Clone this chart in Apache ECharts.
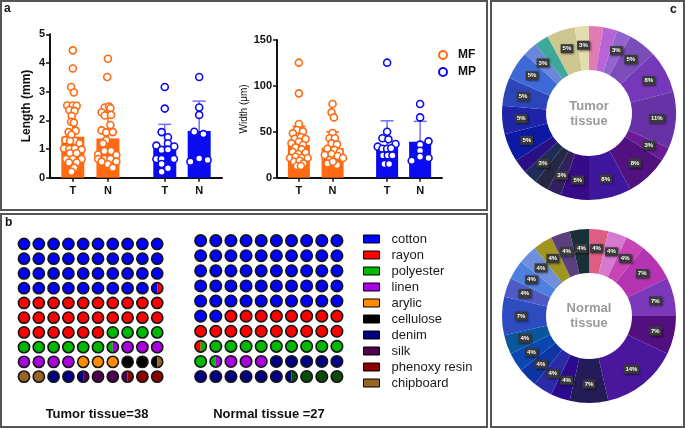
<!DOCTYPE html>
<html><head><meta charset="utf-8">
<script src="https://cdn.jsdelivr.net/npm/echarts@6/dist/echarts.min.js"></script>
<style>html,body{margin:0;padding:0;background:#fff}#c{width:685px;height:428px}</style>
</head><body><div id="c"></div>
<script>
// ================= DATA =================
// Panel a: groups on x axis
const groupLabels = ['T', 'N', 'T', 'N'];
const groupPos = [0, 1, 2.62, 3.6];
// bar means and upper SD limits
const lengthMeanMF = [1.43, 1.37];
const lengthUpperMF = [2.4, 2.25];
const lengthMeanMP = [1.10, 1.63];
const lengthUpperMP = [1.86, 2.67];
const widthMeanMF = [35.6, 32.3];
const widthUpperMF = [56, 50];
const widthMeanMP = [35.6, 39.2];
const widthUpperMP = [62, 61.4];
// individual points: [jitter offset, value]
const lenMF_T = [[0,4.44],[0,3.81],[-0.05,3.16],[0.03,2.97],[-0.16,2.52],[0,2.52],[0.11,2.51],[-0.1,2.36],[0.05,2.33],[-0.03,2.15],[-0.05,1.95],[0.03,1.92],[-0.12,1.59],[0.08,1.64],[-0.04,1.5],[-0.21,1.31],[0.06,1.28],[-0.08,1.28],[0.19,1.19],[-0.25,1.02],[-0.1,1.0],[0.06,1.02],[0.25,0.98],[-0.08,0.85],[0.11,0.85],[-0.19,0.65],[0,0.65],[0.25,0.65],[-0.11,0.53],[0.11,0.53],[0.04,0.35],[-0.04,0.21]];
const lenMF_N = [[0,4.15],[-0.02,3.51],[-0.09,2.45],[0.03,2.48],[0.07,2.42],[-0.18,2.28],[0,2.21],[-0.09,2.17],[0.09,2.19],[0.07,1.84],[-0.18,1.65],[-0.05,1.58],[0.14,1.59],[-0.05,1.31],[-0.14,1.19],[-0.28,0.81],[-0.1,0.93],[0.09,0.93],[0.24,0.79],[-0.28,0.65],[-0.1,0.65],[0.07,0.65],[0.24,0.56],[-0.18,0.56],[0,0.47],[0.14,0.35]];
const lenMP_T = [[0,3.16],[0,2.41],[-0.09,1.59],[0.09,1.41],[-0.24,1.12],[0.09,1.19],[0.27,1.09],[-0.09,0.97],[0.09,0.98],[-0.24,0.65],[-0.09,0.65],[0.26,0.65],[-0.09,0.48],[0.09,0.33],[-0.09,0.21]];
const lenMP_N = [[0,3.51],[0,2.45],[0,2.19],[-0.14,1.6],[0.12,1.52],[-0.25,0.56],[0,0.67],[0.24,0.62]];
const widMF_T = [[0,125.3],[0,91.9],[0,58.5],[-0.06,51.9],[0.12,50.5],[-0.18,48.3],[-0.12,42.5],[0.06,44],[0.2,42.1],[0,39.2],[-0.22,37.4],[0.12,35.6],[-0.1,33],[0.08,30.9],[-0.18,28],[-0.02,25.8],[0.2,27.2],[-0.26,21.4],[-0.1,22.9],[0.08,21.4],[0.26,21.4],[-0.14,17.4],[0.02,18.5],[0.14,15.6],[-0.06,12.7],[0.06,12.7]];
const widMF_N = [[0,80.3],[-0.03,71.2],[0.04,65.7],[0,48.7],[-0.09,42.9],[0.07,42.9],[-0.03,37.4],[0.13,36.3],[-0.15,31.6],[0.06,30.1],[0.21,28],[-0.23,24.7],[-0.03,25.8],[0.15,23.6],[-0.09,19.3],[0.31,21.4],[-0.15,15.6],[0.13,13.8],[0.01,17.4]];
const widMP_T = [[0,125.3],[0,50.1],[-0.14,42.9],[0.04,41.8],[-0.28,33.8],[0.25,36.7],[-0.14,31.6],[0,31.6],[0.12,32],[-0.12,24.3],[0.02,24.3],[0.16,24.3],[-0.08,14.9],[0.06,14.9]];
const widMP_N = [[0,80.3],[0,65.7],[0.25,39.6],[0,36],[0,29.4],[-0.25,18.5],[0.25,21.4],[0,22.9]];

// Panel b: waffle charts (counts in half-cells, fill order row by row)
const materials = ['cotton','rayon','polyester','linen','arylic','cellulose','denim','silk','phenoxy resin','chipboard','other'];
const materialColors = ['#0000ff','#ff0000','#00b800','#a800e0','#ff8c00','#000000','#000080','#4d004f','#8b0000','#9a6422','#0a4a0a'];
const tumorOrder = ['cotton','rayon','polyester','linen','arylic','cellulose','chipboard','denim','silk','phenoxy resin'];
const tumorHalves = [79, 53, 21, 15, 6, 5, 5, 5, 6, 5];
const normalOrder = ['cotton','rayon','polyester','linen','denim','other'];
const normalHalves = [104, 37, 22, 7, 23, 7];

// Panel c: donuts (clockwise from 12 o'clock)
const tumorCounts = [1,1,1,2,3,4,1,3,3,2,1,1,1,1,2,2,2,2,1,1,2,1];
const tumorLabels = ['3%','3%','3%','5%','8%','11%','3%','8%','8%','5%','3%','3%','3%','3%','5%','5%','5%','5%','3%','3%','5%','3%'];
const tumorColors = ['#e17bb4','#b964d6','#9363cf','#7b4db8','#7638ba','#6732a6','#6a1b95','#51127f','#3f179d','#370b87','#30205e','#262742','#1f2b58','#2a0f85','#0c1aa3','#1f24a8','#2c46ba','#3d6ad6','#6a87da','#3ea89b','#cdc78f','#e2dcae'];
const normalCounts = [1,1,1,2,2,2,4,2,1,1,1,1,1,2,1,1,1,1,1,1];
const normalLabels = ['4%','4%','4%','7%','7%','7%','14%','7%','4%','4%','4%','4%','4%','7%','4%','4%','4%','4%','4%','4%'];
const normalColors = ['#dd5e82','#d67ad0','#c944b4','#b434b4','#7b38b8','#52107f','#4a179c','#231c58','#2c0a8e','#2c2aa8','#0d36a4','#0a47b0','#09579a','#2c4cc0','#4e5ac6','#4e80de','#6f8edc','#a09520','#5a407e','#1a3038'];

// ================= CHART =================
const FONT = 'Liberation Sans, Arial, Helvetica, sans-serif';
const ORANGE = '#ff6a13', BLUE = '#0b0bf2', BLUE_ERR = '#7070fa';
const chart = echarts.init(document.getElementById('c'));

function pts(g, arr){ return arr.map(p => [groupPos[g] + p[0], p[1]]); }

function xAxisCfg(gridIndex){
  return {type:'value', gridIndex, min:-0.65, max:4.25,
    axisLine:{show:true, onZero:false, lineStyle:{color:'#111', width:2}},
    axisTick:{show:true, customValues:groupPos, length:4, lineStyle:{color:'#111', width:1.5}},
    axisLabel:{customValues:groupPos, formatter: v => { const i = groupPos.indexOf(v); return i >= 0 ? groupLabels[i] : ''; },
      color:'#111', fontWeight:'bold', fontSize:11, fontFamily:FONT, margin:8},
    splitLine:{show:false}};
}
function yAxisCfg(gridIndex, max, interval, name, nameGap, nameStyle){
  return {type:'value', gridIndex, min:0, max, interval, name, nameLocation:'middle', nameGap,
    nameTextStyle:Object.assign({color:'#111', fontFamily:FONT}, nameStyle),
    axisLine:{show:true, onZero:false, lineStyle:{color:'#111', width:2}},
    axisTick:{show:true, length:4, lineStyle:{color:'#111', width:1.5}},
    axisLabel:{color:'#111', fontWeight:'bold', fontSize:11, fontFamily:FONT, margin:5},
    splitLine:{show:false}};
}
function barSeries(idx, mf, mp){
  const data = [
    {value:[groupPos[0], mf[0]], itemStyle:{color:ORANGE}},
    {value:[groupPos[1], mf[1]], itemStyle:{color:ORANGE}},
    {value:[groupPos[2], mp[0]], itemStyle:{color:BLUE}},
    {value:[groupPos[3], mp[1]], itemStyle:{color:BLUE}}];
  return {type:'bar', xAxisIndex:idx, yAxisIndex:idx, barWidth: idx === 0 ? 23 : 22, data, z:2, silent:true};
}
function errSeries(idx, mf, mfU, mp, mpU){
  const cols = [ORANGE, BLUE_ERR];
  const data = [[groupPos[0], mf[0], mfU[0], 0],[groupPos[1], mf[1], mfU[1], 0],
                [groupPos[2], mp[0], mpU[0], 1],[groupPos[3], mp[1], mpU[1], 1]];
  return {type:'custom', xAxisIndex:idx, yAxisIndex:idx, z:3, silent:true, data, encode:{x:0, y:1},
    renderItem(params, api){
      const x = api.value(0), m = api.value(1), u = api.value(2), c = cols[api.value(3)];
      const a = api.coord([x, m]), b = api.coord([x, u]);
      return {type:'group', children:[
        {type:'line', shape:{x1:a[0], y1:a[1], x2:b[0], y2:b[1]}, style:{stroke:c, lineWidth:1.5}},
        {type:'line', shape:{x1:b[0]-6.5, y1:b[1], x2:b[0]+6.5, y2:b[1]}, style:{stroke:c, lineWidth:1.5}}]};
    }};
}
function scatterSeries(idx, name, color, data){
  return {type:'scatter', name, xAxisIndex:idx, yAxisIndex:idx, z:4, silent:true, symbolSize:7, data,
    itemStyle:{color:'#ffffff', borderColor:color, borderWidth:1.6, opacity:1}};
}
function waffleSeries(idx, order, halves){
  const seq = [];
  order.forEach((m, i) => { for (let k = 0; k < halves[i]; k++) seq.push(materials.indexOf(m)); });
  const data = [];
  for (let c = 0; c < 100; c++) data.push([c % 10, Math.floor(c / 10), seq[2*c], seq[2*c+1]]);
  return {type:'custom', xAxisIndex:idx, yAxisIndex:idx, silent:true, data, encode:{x:0, y:1},
    renderItem(params, api){
      const p = api.coord([api.value(0), api.value(1)]);
      const s = api.size([1, 1]);
      const r = Math.min(s[0], s[1]) * 0.38;
      const L = materialColors[api.value(2)], R = materialColors[api.value(3)];
      const ch = [];
      if (L === R) {
        ch.push({type:'circle', shape:{cx:p[0], cy:p[1], r}, style:{fill:L, stroke:'#151515', lineWidth:1.6}});
      } else {
        ch.push({type:'sector', shape:{cx:p[0], cy:p[1], r, r0:0, startAngle:Math.PI/2, endAngle:Math.PI*1.5, clockwise:true}, style:{fill:L}});
        ch.push({type:'sector', shape:{cx:p[0], cy:p[1], r, r0:0, startAngle:-Math.PI/2, endAngle:Math.PI/2, clockwise:true}, style:{fill:R}});
        ch.push({type:'circle', shape:{cx:p[0], cy:p[1], r}, style:{fill:'none', stroke:'#151515', lineWidth:1.6}});
      }
      return {type:'group', children:ch};
    }};
}
function pieSeries(center, counts, colors, labels){
  return {type:'pie', center, radius:[43, 87], startAngle:90, clockwise:true, silent:true,
    data: counts.map((v, i) => ({value:v, name:'s'+i, itemStyle:{color:colors[i]}})),
    label:{show:true, position:'inside', formatter: p => labels[p.dataIndex],
      color:'#ffffff', fontSize:6, fontWeight:'bold', fontFamily:FONT, backgroundColor:'#3a3a3a',
      padding:[2, 2, 1, 2], shadowColor:'rgba(0,0,0,0.5)', shadowBlur:2, shadowOffsetX:1, shadowOffsetY:1},
    labelLine:{show:false}, emphasis:{disabled:true}};
}

const materialDummies = materials.slice(0, 10).map((m, i) => ({
  type:'bar', name:m, xAxisIndex:2, yAxisIndex:2, data:[], itemStyle:{color:materialColors[i], borderColor:'#000', borderWidth:1}}));

function txt(x, y, text, font, fill, align){
  return {type:'text', x, y, silent:true, style:{text, font, fill: fill || '#111', align: align || 'left', textAlign: align || 'left', verticalAlign:'top', textVerticalAlign:'top'}};
}
function ctext(x, y, text){
  return {type:'text', x, y, silent:true, style:{text, font:'bold 13px ' + FONT, fill:'#9a9a9a', align:'center', textAlign:'center', verticalAlign:'middle', textVerticalAlign:'middle', lineHeight:15}};
}

const option = {
  animation:false,
  backgroundColor:'#ffffff',
  textStyle:{fontFamily:FONT},
  grid:[
    {left:50, top:34.3, width:172, height:143.4},
    {left:277, top:40, width:165, height:137.7},
    {left:16.6, top:236.6, width:148, height:147.4},
    {left:193.1, top:233.1, width:151.4, height:151}
  ],
  xAxis:[xAxisCfg(0), xAxisCfg(1),
    {type:'value', gridIndex:2, min:-0.5, max:9.5, show:false},
    {type:'value', gridIndex:3, min:-0.5, max:9.5, show:false}],
  yAxis:[yAxisCfg(0, 5, 1, 'Length (mm)', 17, {fontSize:12, fontWeight:'bold'}),
    yAxisCfg(1, 150, 50, 'Width (μm)', 27, {fontSize:10, fontWeight:'normal'}),
    {type:'value', gridIndex:2, min:-0.5, max:9.5, inverse:true, show:false},
    {type:'value', gridIndex:3, min:-0.5, max:9.5, inverse:true, show:false}],
  legend:[
    {data:['MF','MP'], orient:'vertical', left:438, top:49, padding:0, icon:'circle', itemWidth:8, itemHeight:8, itemGap:5,
      selectedMode:false, textStyle:{fontFamily:FONT, fontSize:12, fontWeight:'bold', color:'#111', padding:[0,0,0,6], lineHeight:12}},
    {data:materials.slice(0, 10), orient:'vertical', left:363, top:231, padding:0, icon:'rect', itemWidth:16, itemHeight:8, itemGap:0,
      selectedMode:false, itemStyle:{borderColor:'#000', borderWidth:1},
      textStyle:{fontFamily:FONT, fontSize:13, color:'#1a1a1a', lineHeight:16, padding:[0,0,0,7]}}
  ],
  series:[
    barSeries(0, lengthMeanMF, lengthMeanMP),
    errSeries(0, lengthMeanMF, lengthUpperMF, lengthMeanMP, lengthUpperMP),
    scatterSeries(0, 'MF', ORANGE, pts(0, lenMF_T).concat(pts(1, lenMF_N))),
    scatterSeries(0, 'MP', BLUE, pts(2, lenMP_T).concat(pts(3, lenMP_N))),
    barSeries(1, widthMeanMF, widthMeanMP),
    errSeries(1, widthMeanMF, widthUpperMF, widthMeanMP, widthUpperMP),
    scatterSeries(1, 'MF', ORANGE, pts(0, widMF_T).concat(pts(1, widMF_N))),
    scatterSeries(1, 'MP', BLUE, pts(2, widMP_T).concat(pts(3, widMP_N))),
    waffleSeries(2, tumorOrder, tumorHalves),
    waffleSeries(3, normalOrder, normalHalves),
    pieSeries([589, 113], tumorCounts, tumorColors, tumorLabels),
    pieSeries([589, 316], normalCounts, normalColors, normalLabels)
  ].concat(materialDummies),
  graphic:[
    {type:'rect', silent:true, shape:{x:1, y:1, width:486, height:209}, style:{fill:'none', stroke:'#555', lineWidth:2}},
    {type:'rect', silent:true, shape:{x:1, y:214, width:486, height:213}, style:{fill:'none', stroke:'#555', lineWidth:2}},
    {type:'rect', silent:true, shape:{x:491, y:1, width:193, height:426}, style:{fill:'none', stroke:'#555', lineWidth:2}},
    txt(4, 3, 'a', 'bold 12px ' + FONT),
    txt(5, 217, 'b', 'bold 12px ' + FONT),
    txt(670, 4, 'c', 'bold 12px ' + FONT),
    txt(97, 408, 'Tumor tissue=38', 'bold 13px ' + FONT, '#111', 'center'),
    txt(269, 408, 'Normal tissue =27', 'bold 13px ' + FONT, '#111', 'center'),
    ctext(589, 114, 'Tumor\ntissue'),
    ctext(589, 316, 'Normal\ntissue')
  ]
};
chart.setOption(option);
</script>
</body></html>
